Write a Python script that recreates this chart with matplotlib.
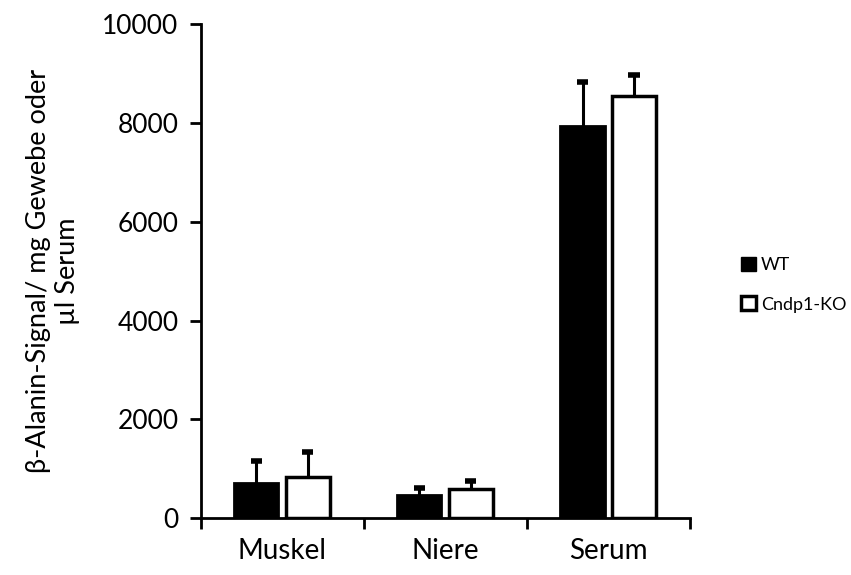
import numpy as np
import matplotlib.pyplot as plt
from matplotlib.patches import Patch

plt.rcParams['font.family'] = ['Lato', 'DejaVu Sans']

# data
categories = ['Muskel', 'Niere', 'Serum']
wt_values = [710, 470, 7940]
wt_err = [440, 135, 890]
ko_values = [822, 587, 8549]
ko_err = [506, 154, 420]

x = np.arange(len(categories))
width = 0.27
offsets = [-0.16, 0.155]

fig = plt.figure(figsize=(8.51, 5.75), dpi=100)
ax = fig.add_axes([0.236, 0.099, 0.575, 0.859])

ax.bar(x + offsets[0], wt_values, width, color='black', edgecolor='black', linewidth=2,
       label='WT', zorder=3)
ax.bar(x + offsets[1], ko_values, width, color='white', edgecolor='black', linewidth=2.5,
       label='Cndp1-KO', zorder=3)

# upper-only error bars with caps
for off, vals, errs in [(offsets[0], wt_values, wt_err), (offsets[1], ko_values, ko_err)]:
    xs = x + off
    tops = np.array(vals) + np.array(errs)
    ax.vlines(xs, vals, tops, color='black', linewidth=2.2, zorder=2)
    ax.hlines(tops, xs - 0.035, xs + 0.035, color='black', linewidth=4, zorder=2)

ax.set_xlim(-0.5, 2.5)
ax.set_ylim(0, 10000)
ax.set_yticks([0, 2000, 4000, 6000, 8000, 10000])
ax.set_xticks(x)
ax.set_xticklabels(categories)
ax.set_xticks([-0.5, 0.5, 1.5, 2.5], minor=True)
ax.tick_params(axis='x', which='major', length=0, pad=14, labelsize=20)
ax.tick_params(axis='x', which='minor', length=8, width=2, direction='out')
ax.tick_params(axis='y', length=8, width=2, direction='out', pad=8, labelsize=19)

for s in ['top', 'right']:
    ax.spines[s].set_visible(False)
for s in ['left', 'bottom']:
    ax.spines[s].set_linewidth(2)

ax.set_ylabel('β-Alanin-Signal/ mg Gewebe oder\nµl Serum', fontsize=19.5, labelpad=16)

handles = [Patch(facecolor='black', edgecolor='black', label='WT'),
           Patch(facecolor='white', edgecolor='black', linewidth=2.5, label='Cndp1-KO')]
fig.legend(handles=handles, loc='center left', bbox_to_anchor=(0.852, 0.505), frameon=False,
           fontsize=13, handlelength=0.8, handleheight=0.8, handletextpad=0.3, labelspacing=1.3)

plt.savefig('out.png', dpi=100)
